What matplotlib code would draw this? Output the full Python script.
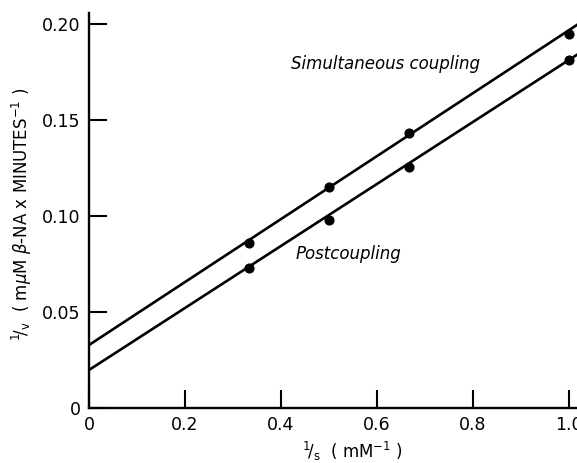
import matplotlib.pyplot as plt
import numpy as np

# valores
inv_s = [0.333, 0.5, 0.667, 1.0]
simultaneo = [0.086, 0.115, 0.143, 0.195]
pos_acoplamento = [0.073, 0.098, 0.1255, 0.181]

# retas ajustadas (intercepto, inclinação)
reta_simultaneo = (0.0328, 0.164)
reta_pos = (0.0198, 0.1615)

x_ticks = [0, 0.2, 0.4, 0.6, 0.8, 1.0]
x_labels = ['0', '0.2', '0.4', '0.6', '0.8', '1.0']
y_ticks = [0, 0.05, 0.10, 0.15, 0.20]
y_labels = ['0', '0.05', '0.10', '0.15', '0.20']

plt.rcParams['font.family'] = ['DejaVu Sans']

fig = plt.figure(figsize=(5.77, 4.63), dpi=100)
ax = fig.add_axes([89 / 577, 55 / 463, 488 / 577, 395 / 463])

xs = np.array([0, 1.05])
for (b, m), pts in [(reta_simultaneo, simultaneo), (reta_pos, pos_acoplamento)]:
    ax.plot(xs, b + m * xs, color='black', lw=1.9, clip_on=True)
    ax.plot(inv_s, pts, 'o', color='black', ms=6.3, clip_on=False)

ax.set_xlim(0, 488 / 480)
ax.set_ylim(0, 395 / 1920)

ax.spines['top'].set_visible(False)
ax.spines['right'].set_visible(False)
ax.spines['left'].set_linewidth(1.7)
ax.spines['bottom'].set_linewidth(1.7)

ax.set_xticks(x_ticks)
ax.set_xticklabels(x_labels)
ax.set_yticks(y_ticks)
ax.set_yticklabels(y_labels)
ax.tick_params(direction='in', length=13, width=1.5, labelsize=12.5, pad=6)

ax.text(0.42, 0.179, 'Simultaneous coupling', style='italic', fontsize=12,
        va='center', ha='left')
ax.text(0.43, 0.080, 'Postcoupling', style='italic', fontsize=12,
        va='center', ha='left')

ax.set_xlabel(r'$^{1}\!/_{\mathrm{s}}$  ( mM$^{-1}$ )', fontsize=12)
ax.xaxis.set_label_coords(0.54, -0.08)
ax.set_ylabel(r'$^{1}\!/_{\mathrm{v}}$  ( m$\mu$M $\beta$-NA x MINUTES$^{-1}$ )',
              fontsize=12)
ax.yaxis.set_label_coords(-0.113, 0.49)

fig.savefig('out.png', dpi=100)
